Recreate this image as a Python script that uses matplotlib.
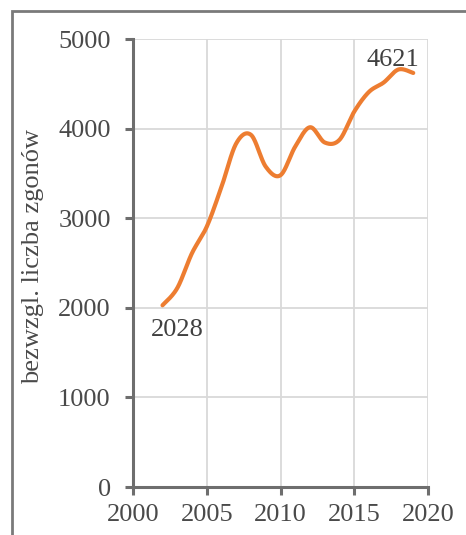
import numpy as np
import matplotlib.pyplot as plt
from matplotlib.patches import Rectangle

# data
years = [2002, 2003, 2004, 2005, 2006, 2007, 2008, 2009, 2010,
         2011, 2012, 2013, 2014, 2015, 2016, 2017, 2018, 2019]
deaths = [2028, 2220, 2610, 2905, 3350, 3835, 3930, 3575, 3480,
          3800, 4015, 3845, 3875, 4190, 4410, 4515, 4660, 4621]
x_ticks = [2000, 2005, 2010, 2015, 2020]
y_ticks = [0, 1000, 2000, 3000, 4000, 5000]
y_label = "bezwzgl. liczba zgonów"


# Excel-like smoothed line (Catmull-Rom style bezier through the points)
def smooth(x, y, n=30, t=1/6):
    x = np.asarray(x, float)
    y = np.asarray(y, float)
    px = np.concatenate([[x[0]], x, [x[-1]]])
    py = np.concatenate([[y[0]], y, [y[-1]]])
    xs, ys = [], []
    s = np.linspace(0, 1, n)
    for i in range(1, len(px) - 2):
        p0 = np.array([px[i], py[i]])
        p3 = np.array([px[i + 1], py[i + 1]])
        p1 = p0 + t * (np.array([px[i + 1], py[i + 1]]) - np.array([px[i - 1], py[i - 1]]))
        p2 = p3 - t * (np.array([px[i + 2], py[i + 2]]) - np.array([px[i], py[i]]))
        b = ((1 - s) ** 3)[:, None] * p0 + (3 * (1 - s) ** 2 * s)[:, None] * p1 \
            + (3 * (1 - s) * s ** 2)[:, None] * p2 + (s ** 3)[:, None] * p3
        xs.extend(b[:, 0])
        ys.extend(b[:, 1])
    return np.array(xs), np.array(ys)


plt.rcParams['font.family'] = ['Liberation Serif', 'DejaVu Serif']

fig = plt.figure(figsize=(4.66, 5.35), dpi=100)
ax = fig.add_axes([133 / 466, 48 / 535, 295 / 466, 448 / 535])

sx, sy = smooth(years, deaths)
ax.plot(sx, sy, color='#ed7d31', lw=3.0, solid_capstyle='round', zorder=3)

ax.set_xlim(2000, 2020)
ax.set_ylim(0, 5000)
ax.set_xticks(x_ticks)
ax.set_yticks(y_ticks)
ax.grid(True, color='#d9d9d9', lw=1.3)
ax.set_axisbelow(True)

for side in ['top', 'right']:
    ax.spines[side].set_visible(False)
for side in ['left', 'bottom']:
    ax.spines[side].set_color('#6e6e6e')
    ax.spines[side].set_linewidth(2.2)

ax.tick_params(axis='both', colors='#6e6e6e', width=2.2, length=6,
               labelsize=19, labelcolor='#4a4a4a')
ax.tick_params(axis='x', pad=6)
ax.tick_params(axis='y', pad=10)

ax.set_ylabel(y_label, fontsize=19, color='#4a4a4a')
ax.yaxis.set_label_coords(-0.30, 0.515)

# data labels for first and last points
ax.annotate(str(deaths[0]), (years[0], deaths[0]), xytext=(11, -18),
            textcoords='offset points', ha='center', va='center',
            fontsize=19, color='#404040')
ax.annotate(str(deaths[-1]), (years[-1], deaths[-1]), xytext=(-15, 9),
            textcoords='offset points', ha='center', va='center',
            fontsize=19, color='#404040')

# outer chart frame, cut at the right and bottom like the reference
fig.patches.append(Rectangle((12 / 466, -0.1), 1.2, (535 - 11) / 535 + 0.1,
                             transform=fig.transFigure, fill=False,
                             edgecolor='#7a7a7a', lw=2, zorder=10))

fig.savefig('out.png', dpi=100)
